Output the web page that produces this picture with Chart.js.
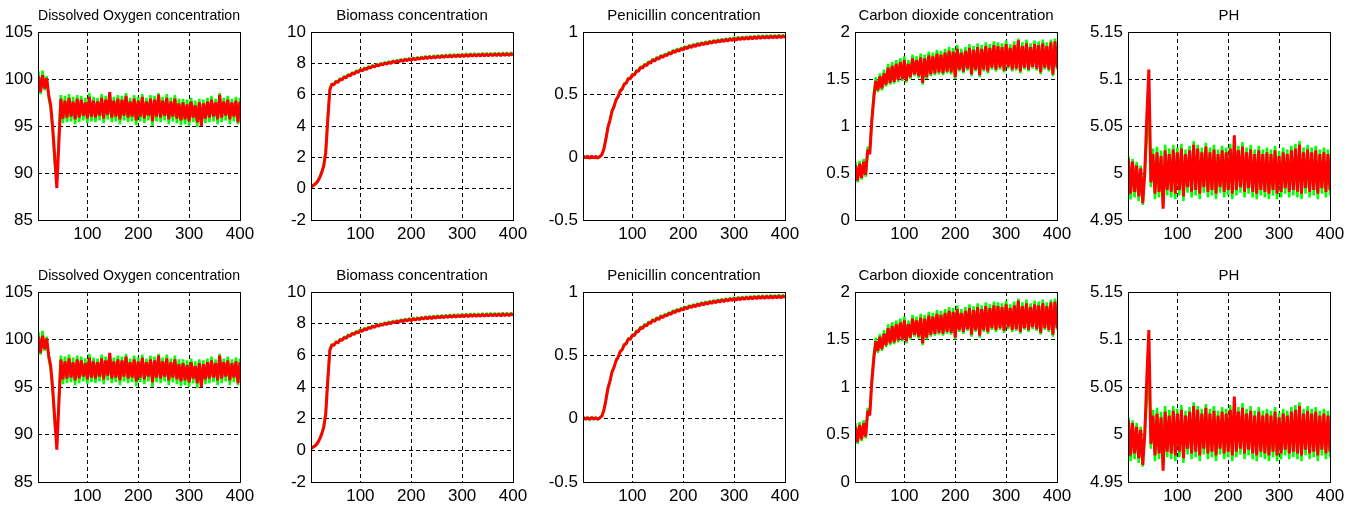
<!DOCTYPE html>
<html lang="en">
<head>
<meta charset="UTF-8">
<title>Fermentation runs</title>
<script src="https://cdn.jsdelivr.net/npm/chart.js"></script>
<style>
  html, body { margin: 0; padding: 0; background: #fff; }
  body { position: relative; width: 1357px; height: 506px; overflow: hidden; }
  canvas { position: absolute; }
</style>
</head>
<body>
<script>
// sample times (hours)
const time = [
  4, 8, 12, 16, 20, 24, 28, 32, 36, 40,
  44, 48, 52, 56, 60, 64, 68, 72, 76, 80,
  84, 88, 92, 96, 100, 104, 108, 112, 116, 120,
  124, 128, 132, 136, 140, 144, 148, 152, 156, 160,
  164, 168, 172, 176, 180, 184, 188, 192, 196, 200,
  204, 208, 212, 216, 220, 224, 228, 232, 236, 240,
  244, 248, 252, 256, 260, 264, 268, 272, 276, 280,
  284, 288, 292, 296, 300, 304, 308, 312, 316, 320,
  324, 328, 332, 336, 340, 344, 348, 352, 356, 360,
  364, 368, 372, 376, 380, 384, 388, 392, 396, 400
];
const xTicks = [100, 200, 300, 400];

// dissolved oxygen
const doRed = [
  100.3, 98.6, 100.4, 99.0, 100.1, 98.3, 97.2, 94.8, 91.6, 88.4,
  93.2, 97.9, 95.8, 97.7, 95.9, 98.0, 96.0, 97.6, 95.7, 97.9,
  95.9, 97.8, 96.1, 97.5, 95.8, 98.1, 96.0, 97.7, 95.9, 97.6,
  96.1, 98.0, 95.8, 97.8, 96.2, 98.6, 95.9, 97.7, 96.0, 97.9,
  95.7, 97.8, 96.1, 98.2, 95.9, 97.6, 96.0, 97.9, 95.6, 97.7,
  96.0, 98.1, 95.8, 97.6, 96.1, 97.9, 95.5, 97.8, 96.0, 98.3,
  95.9, 97.7, 96.1, 98.0, 95.7, 97.6, 96.0, 97.9, 95.8, 97.4,
  95.6, 97.5, 95.7, 97.3, 95.5, 97.6, 95.9, 97.2, 95.4, 97.5,
  95.0, 97.4, 95.8, 97.6, 95.9, 97.8, 96.0, 97.5, 95.7, 98.3,
  95.9, 97.6, 96.1, 97.8, 95.7, 97.5, 96.0, 97.7, 95.4, 97.6
];
const doGreen = [
  100.8, 98.4, 100.9, 98.8, 100.3, 98.0, 96.8, 94.3, 91.0, 89.2,
  94.0, 98.3, 95.3, 98.2, 95.4, 98.4, 95.5, 98.1, 95.2, 98.3,
  95.4, 98.2, 95.6, 98.0, 95.3, 98.5, 95.5, 98.1, 95.4, 98.0,
  95.6, 98.4, 95.3, 98.2, 95.7, 98.3, 95.4, 98.1, 95.5, 98.3,
  95.2, 98.2, 95.6, 98.5, 95.4, 98.0, 95.5, 98.3, 95.1, 98.1,
  95.5, 98.4, 95.3, 98.0, 95.6, 98.3, 95.0, 98.2, 95.5, 98.5,
  95.4, 98.1, 95.6, 98.4, 95.2, 98.0, 95.5, 98.3, 95.3, 97.9,
  95.1, 97.9, 95.2, 97.8, 95.0, 98.0, 95.4, 97.7, 94.9, 97.9,
  95.2, 97.8, 95.3, 98.0, 95.4, 98.2, 95.5, 97.9, 95.2, 98.5,
  95.4, 98.0, 95.6, 98.2, 95.2, 97.9, 95.5, 98.1, 95.2, 98.0
];
const doTicks = [85, 90, 95, 100, 105];

// biomass
const bioRed = [
  0.12, 0.22, 0.31, 0.46, 0.70, 1.02, 1.45, 2.30, 4.40, 6.30,
  6.66, 6.63, 6.83, 6.79, 6.98, 6.95, 7.12, 7.08, 7.25, 7.21,
  7.37, 7.32, 7.48, 7.42, 7.58, 7.52, 7.67, 7.61, 7.75, 7.70,
  7.83, 7.77, 7.90, 7.84, 7.96, 7.90, 8.02, 7.95, 8.07, 8.00,
  8.12, 8.06, 8.15, 8.10, 8.21, 8.13, 8.25, 8.17, 8.28, 8.20,
  8.31, 8.23, 8.33, 8.26, 8.37, 8.29, 8.40, 8.31, 8.42, 8.33,
  8.43, 8.35, 8.45, 8.37, 8.47, 8.38, 8.48, 8.40, 8.50, 8.41,
  8.51, 8.42, 8.52, 8.43, 8.53, 8.44, 8.55, 8.45, 8.56, 8.46,
  8.56, 8.47, 8.57, 8.47, 8.58, 8.48, 8.58, 8.49, 8.59, 8.49,
  8.60, 8.50, 8.60, 8.50, 8.61, 8.51, 8.61, 8.51, 8.62, 8.52
];
const bioGreen = [
  0.10, 0.24, 0.33, 0.48, 0.74, 1.06, 1.52, 2.45, 4.60, 6.40,
  6.72, 6.62, 6.90, 6.78, 7.05, 6.94, 7.19, 7.07, 7.32, 7.20,
  7.44, 7.31, 7.55, 7.41, 7.65, 7.51, 7.74, 7.60, 7.82, 7.69,
  7.90, 7.76, 7.97, 7.83, 8.03, 7.89, 8.09, 7.94, 8.14, 7.99,
  8.19, 8.05, 8.23, 8.09, 8.28, 8.12, 8.32, 8.16, 8.35, 8.19,
  8.38, 8.22, 8.41, 8.25, 8.44, 8.28, 8.47, 8.30, 8.49, 8.32,
  8.51, 8.34, 8.53, 8.36, 8.55, 8.37, 8.56, 8.39, 8.58, 8.40,
  8.59, 8.41, 8.60, 8.42, 8.61, 8.43, 8.63, 8.44, 8.64, 8.45,
  8.64, 8.46, 8.65, 8.46, 8.66, 8.47, 8.66, 8.48, 8.67, 8.48,
  8.68, 8.49, 8.68, 8.49, 8.69, 8.50, 8.69, 8.50, 8.70, 8.51
];
const bioTicks = [-2, 0, 2, 4, 6, 8, 10];

// penicillin
const penRed = [
  0.010, -0.004, 0.008, -0.006, 0.009, -0.003, 0.007, -0.005, 0.006, 0.020,
  0.065, 0.145, 0.238, 0.295, 0.368, 0.405, 0.458, 0.484, 0.528, 0.544,
  0.583, 0.592, 0.628, 0.627, 0.658, 0.657, 0.688, 0.687, 0.718, 0.712,
  0.738, 0.732, 0.758, 0.752, 0.778, 0.767, 0.793, 0.782, 0.808, 0.797,
  0.818, 0.812, 0.833, 0.822, 0.848, 0.837, 0.858, 0.847, 0.868, 0.857,
  0.878, 0.867, 0.888, 0.877, 0.896, 0.884, 0.904, 0.892, 0.911, 0.898,
  0.917, 0.904, 0.923, 0.910, 0.928, 0.915, 0.933, 0.920, 0.938, 0.924,
  0.942, 0.928, 0.946, 0.932, 0.950, 0.935, 0.953, 0.938, 0.956, 0.941,
  0.958, 0.943, 0.960, 0.945, 0.962, 0.947, 0.964, 0.949, 0.965, 0.950,
  0.966, 0.951, 0.967, 0.952, 0.968, 0.953, 0.969, 0.954, 0.970, 0.955
];
const penGreen = [
  0.014, -0.008, 0.012, -0.010, 0.013, -0.007, 0.011, -0.009, 0.010, 0.024,
  0.070, 0.150, 0.245, 0.300, 0.375, 0.410, 0.465, 0.490, 0.535, 0.550,
  0.590, 0.598, 0.636, 0.632, 0.666, 0.662, 0.696, 0.692, 0.726, 0.717,
  0.746, 0.737, 0.766, 0.757, 0.786, 0.772, 0.801, 0.787, 0.816, 0.802,
  0.826, 0.817, 0.841, 0.827, 0.856, 0.842, 0.866, 0.852, 0.876, 0.862,
  0.886, 0.872, 0.896, 0.882, 0.904, 0.889, 0.912, 0.897, 0.919, 0.903,
  0.925, 0.909, 0.931, 0.915, 0.936, 0.920, 0.941, 0.925, 0.946, 0.929,
  0.950, 0.933, 0.954, 0.937, 0.958, 0.940, 0.961, 0.943, 0.964, 0.946,
  0.966, 0.948, 0.968, 0.950, 0.970, 0.952, 0.972, 0.954, 0.973, 0.955,
  0.974, 0.956, 0.975, 0.957, 0.976, 0.958, 0.977, 0.959, 0.978, 0.960
];
const penTicks = [-0.5, 0, 0.5, 1];

// carbon dioxide
const coRed = [
  0.58, 0.42, 0.60, 0.45, 0.62, 0.48, 0.75, 0.70, 1.05, 1.30,
  1.48, 1.38, 1.53, 1.40, 1.56, 1.44, 1.62, 1.46, 1.64, 1.47,
  1.66, 1.49, 1.68, 1.50, 1.70, 1.48, 1.66, 1.52, 1.72, 1.55,
  1.70, 1.53, 1.73, 1.46, 1.72, 1.52, 1.75, 1.55, 1.74, 1.56,
  1.77, 1.57, 1.76, 1.56, 1.78, 1.58, 1.80, 1.57, 1.79, 1.52,
  1.82, 1.60, 1.78, 1.58, 1.80, 1.61, 1.83, 1.55, 1.81, 1.60,
  1.84, 1.54, 1.82, 1.60, 1.85, 1.58, 1.83, 1.62, 1.86, 1.60,
  1.85, 1.62, 1.84, 1.59, 1.87, 1.63, 1.83, 1.60, 1.86, 1.61,
  1.91, 1.58, 1.85, 1.62, 1.88, 1.60, 1.84, 1.63, 1.87, 1.61,
  1.86, 1.57, 1.88, 1.62, 1.85, 1.60, 1.89, 1.55, 1.90, 1.62
];
const coGreen = [
  0.62, 0.40, 0.63, 0.43, 0.65, 0.46, 0.78, 0.72, 1.08, 1.35,
  1.52, 1.36, 1.56, 1.38, 1.60, 1.42, 1.66, 1.44, 1.68, 1.45,
  1.70, 1.47, 1.72, 1.48, 1.74, 1.46, 1.70, 1.50, 1.76, 1.53,
  1.74, 1.51, 1.77, 1.44, 1.76, 1.50, 1.79, 1.53, 1.78, 1.54,
  1.81, 1.55, 1.80, 1.54, 1.82, 1.56, 1.84, 1.55, 1.83, 1.50,
  1.86, 1.58, 1.82, 1.56, 1.84, 1.59, 1.87, 1.53, 1.85, 1.58,
  1.88, 1.52, 1.86, 1.58, 1.89, 1.56, 1.87, 1.60, 1.90, 1.58,
  1.89, 1.60, 1.88, 1.57, 1.91, 1.61, 1.87, 1.58, 1.90, 1.59,
  1.93, 1.56, 1.89, 1.60, 1.92, 1.58, 1.88, 1.61, 1.91, 1.59,
  1.90, 1.55, 1.92, 1.60, 1.89, 1.58, 1.92, 1.53, 1.93, 1.60
];
const coTicks = [0, 0.5, 1, 1.5, 2];

// pH
const phRed = [
  5.015, 4.978, 5.012, 4.980, 5.008, 4.975, 5.005, 4.968, 5.000, 5.060,
  5.110, 4.990, 5.020, 4.978, 5.022, 4.980, 5.018, 4.962, 5.024, 4.982,
  5.020, 4.980, 5.025, 4.978, 5.022, 4.982, 5.026, 4.975, 5.020, 4.985,
  5.024, 4.980, 5.030, 4.982, 5.026, 4.978, 5.022, 4.985, 5.028, 4.980,
  5.022, 4.982, 5.025, 4.978, 5.020, 4.985, 5.024, 4.980, 5.022, 4.982,
  5.026, 4.978, 5.040, 4.982, 5.024, 4.985, 5.028, 4.980, 5.022, 4.984,
  5.025, 4.980, 5.020, 4.978, 5.024, 4.982, 5.020, 4.980, 5.022, 4.978,
  5.020, 4.982, 5.024, 4.978, 5.018, 4.980, 5.022, 4.984, 5.020, 4.980,
  5.024, 4.982, 5.026, 4.980, 5.030, 4.978, 5.022, 4.984, 5.025, 4.980,
  5.022, 4.982, 5.024, 4.978, 5.020, 4.984, 5.022, 4.980, 5.020, 4.982
];
const phGreen = [
  5.018, 4.972, 5.015, 4.974, 5.012, 4.970, 5.008, 4.966, 5.004, 5.035,
  5.070, 4.985, 5.026, 4.972, 5.028, 4.974, 5.024, 4.968, 5.030, 4.976,
  5.026, 4.974, 5.030, 4.972, 5.027, 4.976, 5.031, 4.970, 5.025, 4.979,
  5.029, 4.974, 5.034, 4.976, 5.030, 4.972, 5.027, 4.979, 5.032, 4.974,
  5.027, 4.976, 5.030, 4.972, 5.025, 4.979, 5.029, 4.974, 5.027, 4.976,
  5.031, 4.972, 5.036, 4.976, 5.029, 4.979, 5.033, 4.974, 5.027, 4.978,
  5.030, 4.974, 5.025, 4.972, 5.029, 4.976, 5.025, 4.974, 5.027, 4.972,
  5.025, 4.976, 5.029, 4.972, 5.023, 4.974, 5.027, 4.978, 5.025, 4.974,
  5.029, 4.976, 5.031, 4.974, 5.034, 4.972, 5.027, 4.978, 5.030, 4.974,
  5.027, 4.976, 5.029, 4.972, 5.025, 4.978, 5.027, 4.974, 5.025, 4.976
];
const phTicks = [4.95, 5, 5.05, 5.1, 5.15];

const panels = [
  { title: 'Dissolved Oxygen concentration', red: doRed, green: doGreen, yTicks: doTicks },
  { title: 'Biomass concentration', red: bioRed, green: bioGreen, yTicks: bioTicks },
  { title: 'Penicillin concentration', red: penRed, green: penGreen, yTicks: penTicks },
  { title: 'Carbon dioxide concentration', red: coRed, green: coGreen, yTicks: coTicks },
  { title: 'PH', red: phRed, green: phGreen, yTicks: phTicks }
];

// layout of the 2 x 5 grid (plot box positions)
const colLeft = [38, 311, 583, 855, 1128];
const plotW = 202;
const rowTop = [32, 292];
const rowH = [188, 190];
const axisW = 38, titleH = 32, xAxisH = 26, padRight = 22;

const tickFont = { family: 'Liberation Sans', size: 17 };

// solid box round the plot, like a matlab axes
const boxPlugin = {
  id: 'box',
  afterDatasetsDraw(chart) {
    const { ctx, chartArea: a } = chart;
    const x0 = Math.round(a.left) + 0.5, x1 = Math.round(a.right) + 0.5;
    const y0 = Math.round(a.top) + 0.5, y1 = Math.round(a.bottom) + 0.5;
    ctx.save();
    ctx.setLineDash([]);
    ctx.strokeStyle = '#000';
    ctx.lineWidth = 1;
    ctx.strokeRect(x0, y0, x1 - x0, y1 - y0);
    ctx.restore();
  }
};

function series(values) {
  return time.map((t, i) => ({ x: t, y: values[i] }));
}

rowTop.forEach((top, r) => {
  panels.forEach((p, c) => {
    const canvas = document.createElement('canvas');
    const w = axisW + plotW + padRight;
    const h = titleH + rowH[r] + xAxisH;
    canvas.width = w;
    canvas.height = h;
    canvas.style.left = (colLeft[c] - axisW) + 'px';
    canvas.style.top = (top - titleH) + 'px';
    canvas.style.width = w + 'px';
    canvas.style.height = h + 'px';
    document.body.appendChild(canvas);

    const yTicks = p.yTicks;
    new Chart(canvas, {
      type: 'line',
      data: {
        datasets: [
          { data: series(p.red), borderColor: '#ff0000', borderWidth: 3, order: 0 },
          { data: series(p.green), borderColor: '#00ff00', borderWidth: 2.5, order: 1 }
        ]
      },
      options: {
        responsive: false,
        animation: false,
        events: [],
        layout: { padding: { left: 0, top: 0, right: padRight, bottom: 0 } },
        elements: {
          point: { radius: 0 },
          line: { tension: 0, fill: false, borderJoinStyle: 'bevel' }
        },
        datasets: { line: { clip: 0 } },
        plugins: {
          legend: { display: false },
          tooltip: { enabled: false },
          title: {
            display: true,
            text: p.title,
            fullSize: false,
            color: '#000',
            font: { family: 'Liberation Sans', size: 15, weight: 'normal', lineHeight: 1 },
            padding: { top: 8, bottom: 9 }
          }
        },
        scales: {
          x: {
            type: 'linear',
            min: 3,
            max: 400,
            afterBuildTicks: s => { s.ticks = xTicks.map(v => ({ value: v })); },
            afterFit: s => { s.height = xAxisH; },
            ticks: { color: '#000', font: tickFont, padding: 4, maxRotation: 0, autoSkip: false, callback: v => String(v) },
            grid: { color: '#000', lineWidth: 1, drawTicks: false },
            border: { display: false, dash: [4, 3] }
          },
          y: {
            type: 'linear',
            min: yTicks[0],
            max: yTicks[yTicks.length - 1],
            afterBuildTicks: s => { s.ticks = yTicks.map(v => ({ value: v })); },
            afterFit: s => { s.width = axisW; },
            ticks: { color: '#000', font: tickFont, padding: 5, autoSkip: false, callback: v => String(v) },
            grid: { color: '#000', lineWidth: 1, drawTicks: false },
            border: { display: false, dash: [4, 3] }
          }
        }
      },
      plugins: [boxPlugin]
    });
  });
});
</script>
</body>
</html>
